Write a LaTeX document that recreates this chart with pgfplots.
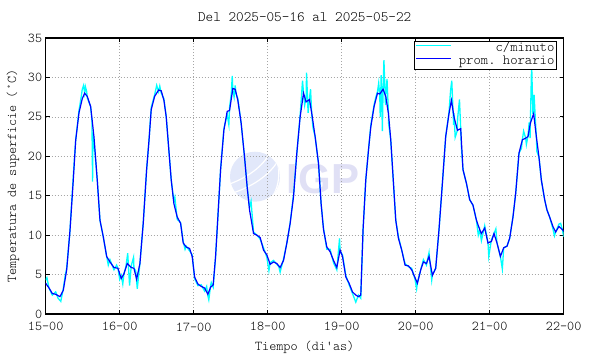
\documentclass[border=0pt]{standalone}
\usepackage{fontspec}
\setmonofont{Latin Modern Mono Light}
\newfontfamily\logofont{Liberation Sans}
\usepackage{pgfplots}
\pgfplotsset{compat=1.18}
\usepackage{pgfplotstable}
\definecolor{igpc}{RGB}{226,232,250}
\definecolor{igpt}{RGB}{224,224,245}
\definecolor{cmin}{RGB}{0,255,255}
\definecolor{phor}{RGB}{0,0,255}

\pgfplotstableread{
h T
0 4.3
0.4 4.6
1.07 3.3
2.14 2.4
3.24 2.8
4.0 2.0
4.9 1.6
5.70 3.2
6.3 4.8
6.81 5.8
7.88 10.6
8.95 17.5
9.72 22
10.79 25.8
11.5 27.5
11.86 28.5
12.3 29.0
12.64 28.0
12.9 28.8
13.3 28.2
13.48 27.4
14.58 26.3
15.0 24.5
15.2 16.8
15.35 23.0
15.65 22
16.72 17
17.60 11.9
18.67 9.8
19.77 7.3
20.3 6.2
20.84 6.9
22.14 5.6
23.0 6.2
23.43 5.8
24.0 4.4
24.50 4.9
25.0 3.8
25.38 5.1
26.0 6.0
26.6 7.7
27.2 3.6
27.74 6.1
28.5 7.2
28.62 5.8
29.2 5.5
29.7 3.2
30.56 6.4
31.63 11.5
32.73 18.3
33.5 22.0
34.22 26.2
35.33 27.8
36.0 29.0
36.62 28.2
37.0 28.9
37.47 28.0
38.34 27.3
39.09 25
39.86 21.2
40.71 17
41.58 14.3
41.9 14.8
42.65 12.0
43.75 11.6
44.60 9.2
45.2 8.2
45.57 8.6
46.67 8.0
47.51 7.5
48.29 4.5
49.36 3.6
50.43 3.7
51.53 2.9
52.2 3.5
52.60 2.3
52.9 1.8
53.48 3.6
53.7 4.0
54.32 3.4
55.10 7.3
55.84 12.3
56.72 18.3
57.79 23.5
58.86 25.3
59.4 24.0
59.63 26.2
60.2 28.0
60.5 30.2
60.70 28.3
61.1 27.5
61.45 29.0
61.7 28.0
62.32 27.3
63.39 24.2
64.49 19.9
65.34 16.1
66.11 13.5
66.6 14.3
67.41 10.4
68.48 10.0
69.55 9.5
70.65 8.4
71.72 7.2
72.4 5.5
72.79 6.5
73.89 6.8
74.96 6.3
75.6 6.0
76.03 5.3
77.14 7.0
78.21 9.0
79.28 11.5
80.38 15.2
81.45 20.4
82.52 25.2
83.3 29.6
83.62 28.0
84.0 26.5
84.46 27.5
84.6 30.6
85.1 25.5
85.56 27.4
85.9 28.5
86.31 25.2
86.7 23.6
87.38 22.5
88.48 19.1
89.32 14
90.10 10.9
91.17 8.2
92.24 8.2
93.34 6.5
94.41 5.6
95.3 9.6
95.48 8.0
96.26 7.5
97.33 4.9
98.40 3.7
99.50 2.6
100.57 1.5
101.44 2.4
102.19 2.0
102.93 10.7
103.81 17
104.69 20.8
105.43 23.9
106.50 26.5
107.0 27.4
107.60 28.2
108.0 29.3
108.35 27.6
108.5 25.0
108.8 30.3
109.2 23.2
109.42 28.6
109.7 32.2
110.2 26.5
110.29 27.8
110.7 29.8
111.17 25.4
111.2 24.2
111.91 22.1
112.66 17.4
113.53 11.9
114.40 9.8
115.47 8.1
116.54 6.4
117.64 6.0
118.71 5.8
119.78 4.4
120.3 3.2
120.56 4.0
121.63 5.6
122.50 6.9
123.48 6.2
124.32 7.8
125.2 4.3
125.42 5.0
126.49 5.8
127.56 10.7
128.66 16.6
129.73 22.5
130.80 25.6
131.3 28.3
131.7 29.6
132.3 24.0
132.42 25.5
132.8 22.4
133.53 23.3
133.6 24.8
134.2 27.2
134.60 23.5
134.8 21.3
135.34 18.3
136.44 16.6
137.51 14.5
138.58 13.8
139.69 11.9
140.3 10.0
140.76 10.7
141.31 9.3
142.38 11.2
143.45 9.0
143.7 7.3
144.55 9.4
145.40 10.2
146.0 10.8
146.37 9.0
147.47 7.3
148.1 5.7
148.54 8.4
149.61 8.6
150.48 9.6
151.55 12.3
152.43 15.3
153.50 20.4
154.3 21.0
154.60 22.1
155.0 23.2
155.67 22.3
155.9 21.5
156.42 22.6
156.8 24.3
157.1 22.3
157.19 24.2
157.6 31.8
158.0 25.5
158.26 25.6
158.4 27.8
158.9 24.0
159.13 22.5
159.3 20.6
159.98 19.9
160.75 17
161.82 14.5
162.57 13.2
163.44 12.3
164.51 10.8
165.0 9.9
165.39 10.4
166.46 11.4
167.0 11.5
167.56 10.7
168 9.8
}\minuto

\pgfplotstableread{
h T
0 3.9
1.07 3.3
2.14 2.6
3.24 2.5
4.63 2.2
5.70 3.0
6.81 5.6
7.88 10.6
8.95 17
9.72 22
10.79 25.5
11.86 27.3
12.64 28.0
13.48 27.6
14.58 26.3
15.65 22.5
16.72 17
17.60 11.9
18.67 9.8
19.77 7.3
20.84 6.6
22.14 5.9
23.43 5.8
24.50 4.5
25.38 5.1
26.45 6.4
27.74 5.9
28.62 5.8
29.49 4.4
30.56 6.4
31.63 11.5
32.73 18.3
33.5 22.0
34.22 25.9
35.33 27.6
36.62 28.4
37.47 28.3
38.34 27.1
39.09 25
39.86 21.2
40.71 17
41.58 14
42.65 12.3
43.75 11.5
44.60 9.0
45.57 8.5
46.67 8.3
47.51 7.3
48.29 4.7
49.36 3.8
50.43 3.5
51.53 3.3
52.60 2.5
53.48 3.4
54.32 3.7
55.10 7.3
55.84 12.3
56.72 18.3
57.79 23.3
58.86 25.7
59.63 25.8
60.70 28.6
61.45 28.5
62.32 27.1
63.39 24.2
64.49 19.9
65.34 16.1
66.11 13.2
67.41 10.2
68.48 10.0
69.55 9.7
70.65 8.1
71.72 7.5
72.79 6.3
73.89 6.6
74.96 6.4
76.03 5.9
77.14 6.8
78.21 9.0
79.28 11.5
80.38 14.9
81.45 20.4
82.52 25
83.62 28
84.46 26.9
85.56 27.2
86.31 25.4
87.38 22.5
88.48 19.1
89.32 14
90.10 10.7
91.17 8.5
92.24 7.9
93.34 6.8
94.41 5.9
95.48 8.1
96.26 7.3
97.33 4.7
98.40 3.9
99.50 2.8
100.57 2.4
101.44 2.2
102.19 2.4
102.93 10.7
103.81 17
104.69 20.8
105.43 23.7
106.50 26.3
107.60 28
108.35 27.9
109.42 28.5
110.29 27.6
111.17 25.4
111.91 22.1
112.66 17.4
113.53 11.9
114.40 9.6
115.47 8.1
116.54 6.2
117.64 6.1
118.71 5.6
119.78 4.6
120.56 3.9
121.63 5.6
122.50 6.6
123.48 6.4
124.32 7.3
125.42 4.9
126.49 5.8
127.56 10.7
128.66 16.6
129.73 22.5
130.80 25.4
131.58 27.1
132.42 25
133.53 23.3
134.60 23.5
135.34 18.3
136.44 16.6
137.51 14.5
138.58 13.8
139.69 11.9
140.76 10.7
141.31 10.2
142.38 10.9
143.45 9.0
144.55 9.2
145.40 10.2
146.37 9.0
147.47 7.3
148.54 8.4
149.61 8.6
150.48 9.6
151.55 12.3
152.43 15.3
153.50 20.4
154.60 22.1
155.67 22.3
156.42 22.5
157.19 24.2
158.26 25.4
159.13 22.5
159.98 19.9
160.75 17
161.82 14.5
162.57 13.2
163.44 12.3
164.51 11.1
165.39 10.4
166.46 11.1
167.56 10.7
168 10.5
}\horario

\begin{document}
\begin{tikzpicture}[font=\ttfamily\fontsize{13.5}{16}\selectfont]
\useasboundingbox (-45.7pt,-40pt) rectangle (544.3pt,314pt);
% faint IGP watermark
\fill[igpc] (209.3pt,137.3pt) circle (25pt);
\begin{scope}
\clip (209.3pt,137.3pt) circle (25pt);
\draw[white, line width=1.2pt] (184pt,130pt) .. controls (205pt,138pt) and (220pt,150pt) .. (226pt,165pt);
\draw[white, line width=1.2pt] (184pt,120pt) .. controls (210pt,128pt) and (228pt,142pt) .. (236pt,160pt);
\draw[white, line width=1.2pt] (226pt,165pt) .. controls (236pt,150pt) and (236pt,125pt) .. (222pt,112pt);
\end{scope}
\node[anchor=base west, inner sep=0pt, text=igpt, font=\logofont\bfseries\fontsize{42}{42}\selectfont] at (241pt,121pt) {IGP};
\begin{axis}[
  at={(0pt,0pt)}, anchor=south west,
  width=518pt, height=276pt, scale only axis,
  xmin=0, xmax=168, ymin=0, ymax=35,
  xtick={0,24,...,168},
  xticklabels={15-00,16-00,17-00,18-00,19-00,20-00,21-00,22-00},
  xticklabel style={yshift=-5pt},
  ytick={0,5,...,35},
  /pgf/number format/assume math mode=true,
  grid=major,
  major grid style={gray!70, line width=0.5pt, dash pattern=on 1pt off 2pt},
  axis line style={line width=1.1pt, black},
  tick style={black, line width=1pt},
  major tick length=4pt,
  title={Del 2025-05-16 al 2025-05-22},
  title style={at={(axis description cs:0.5,1.038)}, anchor=base, inner sep=0pt, font=\ttfamily\fontsize{14.5}{17}\selectfont},
  xlabel={Tiempo (di'as)},
  xlabel style={at={(axis description cs:0.5,-0.134)}, anchor=base, inner sep=0pt},
  ylabel={Temperatura de superficie (°C)},
  ylabel style={at={(axis description cs:-0.0573,0.5)}, anchor=base, inner sep=0pt},
  legend cell align=right,
  legend style={at={(0.9865,0.989)}, anchor=north east, draw=black, line width=0.6pt, fill=white,
    font=\ttfamily\fontsize{14}{16}\selectfont, inner xsep=1pt, inner ysep=1pt, row sep=0pt,
    column sep=6pt,
    nodes={inner sep=1pt, text height=8.5pt, text depth=2.3pt}},
  legend image code/.code={\draw[#1] (0pt,3pt) -- (35pt,3pt);},
]
\addplot[cmin, line width=1.3pt] table[x=h,y=T]{\minuto};
\addlegendentry{c/minuto}
\addplot[phor, line width=1.2pt] table[x=h,y=T]{\horario};
\addlegendentry{prom. horario}
\end{axis}
\end{tikzpicture}
\end{document}
